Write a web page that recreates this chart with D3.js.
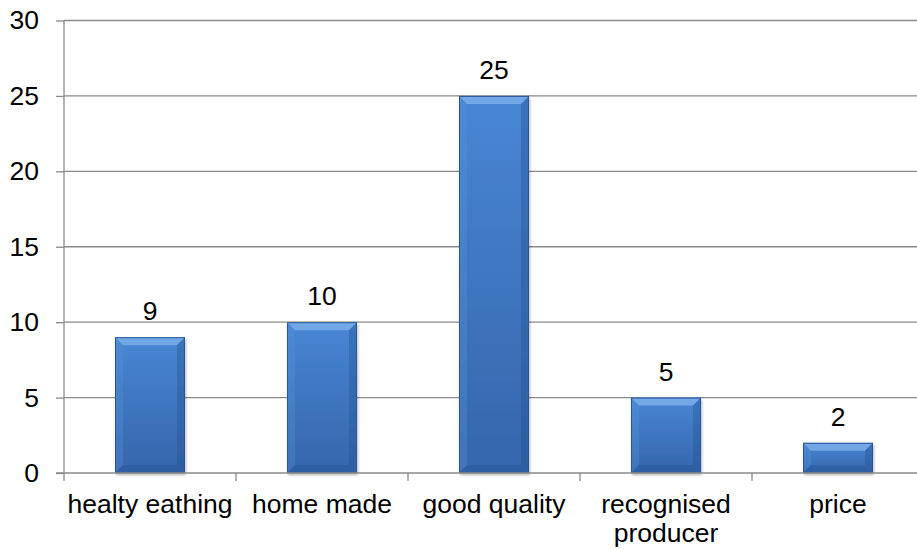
<!DOCTYPE html>
<html>
<head>
<meta charset="utf-8">
<script src="https://cdn.jsdelivr.net/npm/d3@7"></script>
<style>
  body { margin: 0; background: #fff; }
  text { font-family: "Liberation Sans", Arial, sans-serif; fill: #000; }
</style>
</head>
<body>
<div id="chart"></div>
<script>
// Data
var categories = ["healty eathing", "home made", "good quality", "recognised producer", "price"];
var values = [9, 10, 25, 5, 2];
var yTicks = [0, 5, 10, 15, 20, 25, 30];

var svgWidth = 917;
var svgHeight = 549;
var fontSize = "26.5px";

var svg = d3.select("#chart").append("svg")
  .attr("width", svgWidth)
  .attr("height", svgHeight);

// plot area (runs past the right edge like the original)
var x0 = 64, x1 = 924, yTop = 20.5, yBottom = 473;

var xScale = d3.scaleBand()
  .domain(categories)
  .range([x0, x1])
  .paddingInner(0.593)
  .paddingOuter(0.2965);

var yScale = d3.scaleLinear()
  .domain([0, 30])
  .range([yBottom, yTop]);

// gradients
var defs = svg.append("defs");
var grad = defs.append("linearGradient").attr("id", "barGrad")
  .attr("x1", 0).attr("y1", 0).attr("x2", 0).attr("y2", 1);
grad.append("stop").attr("offset", "0%").attr("stop-color", "#4886d4");
grad.append("stop").attr("offset", "100%").attr("stop-color", "#3566ac");

var filter = defs.append("filter").attr("id", "shadow")
  .attr("x", "-20%").attr("y", "-20%").attr("width", "140%").attr("height", "140%");
filter.append("feGaussianBlur").attr("in", "SourceAlpha").attr("stdDeviation", 1.5);
filter.append("feOffset").attr("dx", 1).attr("dy", 2).attr("result", "b");
filter.append("feComponentTransfer").append("feFuncA").attr("type", "linear").attr("slope", 0.3);
var merge = filter.append("feMerge");
merge.append("feMergeNode");
merge.append("feMergeNode").attr("in", "SourceGraphic");

// gridlines
svg.append("g")
  .selectAll("line")
  .data(yTicks.filter(d => d > 0))
  .enter()
  .append("line")
  .attr("x1", x0)
  .attr("x2", x1)
  .attr("y1", d => yScale(d))
  .attr("y2", d => yScale(d))
  .attr("stroke", "#8a8a8a")
  .attr("stroke-width", 1.3);

// y axis
var leftAxis = d3.axisLeft(yScale).tickValues(yTicks).tickSize(8).tickPadding(17);
var yAxisG = svg.append("g")
  .attr("transform", `translate(${x0}, 0)`)
  .call(leftAxis);
yAxisG.select(".domain").attr("stroke", "#8a8a8a").attr("stroke-width", 1.3)
  .attr("d", `M0,${yTop}V${yBottom}`);
yAxisG.selectAll(".tick line").attr("stroke", "#8a8a8a").attr("stroke-width", 1.3);
yAxisG.selectAll(".tick text")
  .style("font-size", fontSize)
  .style("font-family", "'Liberation Sans', Arial, sans-serif")
  .attr("fill", "#000");

// bars
var bevel = 8;
var bars = svg.append("g")
  .selectAll("g")
  .data(values)
  .enter()
  .append("g")
  .attr("filter", "url(#shadow)");

bars.append("rect")
  .attr("x", (d, i) => xScale(categories[i]))
  .attr("y", d => yScale(d))
  .attr("width", xScale.bandwidth())
  .attr("height", d => yBottom - yScale(d))
  .attr("fill", "url(#barGrad)");

function facet(d, i, side) {
  var l = xScale(categories[i]), r = l + xScale.bandwidth();
  var t = yScale(d), b = yBottom;
  var bv = Math.min(bevel, (b - t) / 2);
  if (side === "top") return [[l, t], [r, t], [r - bv, t + bv], [l + bv, t + bv]];
  if (side === "left") return [[l, t], [l + bv, t + bv], [l + bv, b - bv], [l, b]];
  if (side === "right") return [[r, t], [r, b], [r - bv, b - bv], [r - bv, t + bv]];
  return [[l, b], [l + bv, b - bv], [r - bv, b - bv], [r, b]];
}
var facets = [["top", "#86b6ee", 0.7], ["left", "#5a95de", 0.3], ["right", "#23508f", 0.35], ["bottom", "#23508f", 0.35]];
facets.forEach(function(f) {
  bars.append("polygon")
    .attr("points", (d, i) => facet(d, i, f[0]).map(p => p.join(",")).join(" "))
    .attr("fill", f[1])
    .attr("opacity", f[2]);
});
bars.append("rect")
  .attr("x", (d, i) => xScale(categories[i]) + 0.5)
  .attr("y", d => yScale(d) + 0.5)
  .attr("width", xScale.bandwidth() - 1)
  .attr("height", d => yBottom - yScale(d) - 1)
  .attr("fill", "none")
  .attr("stroke", "#2c5797")
  .attr("stroke-width", 1);

// x axis (drawn after bars)
var xAxisG = svg.append("g");
xAxisG.append("line")
  .attr("x1", x0 - 8).attr("x2", x1)
  .attr("y1", yBottom).attr("y2", yBottom)
  .attr("stroke", "#8a8a8a").attr("stroke-width", 1.3);
var boundaries = categories.map(c => xScale(c) - xScale.step() * xScale.paddingInner() / 2);
xAxisG.selectAll(".xtick")
  .data(boundaries)
  .enter()
  .append("line")
  .attr("x1", d => d).attr("x2", d => d)
  .attr("y1", yBottom).attr("y2", yBottom + 8)
  .attr("stroke", "#8a8a8a").attr("stroke-width", 1.3);

// category labels
var labelLines = {"recognised producer": ["recognised", "producer"]};
xAxisG.selectAll(".xlabel")
  .data(categories)
  .enter()
  .append("text")
  .attr("text-anchor", "middle")
  .style("font-size", fontSize)
  .each(function(c) {
    var lines = labelLines[c] || [c];
    var t = d3.select(this);
    lines.forEach(function(s, k) {
      t.append("tspan")
        .attr("x", xScale(c) + xScale.bandwidth() / 2)
        .attr("y", 513 + k * 28.5)
        .text(s);
    });
  });

// value labels
svg.append("g")
  .selectAll("text")
  .data(values)
  .enter()
  .append("text")
  .attr("x", (d, i) => xScale(categories[i]) + xScale.bandwidth() / 2)
  .attr("y", d => yScale(d) - 17)
  .attr("text-anchor", "middle")
  .style("font-size", fontSize)
  .text(d => d);
</script>
</body>
</html>
